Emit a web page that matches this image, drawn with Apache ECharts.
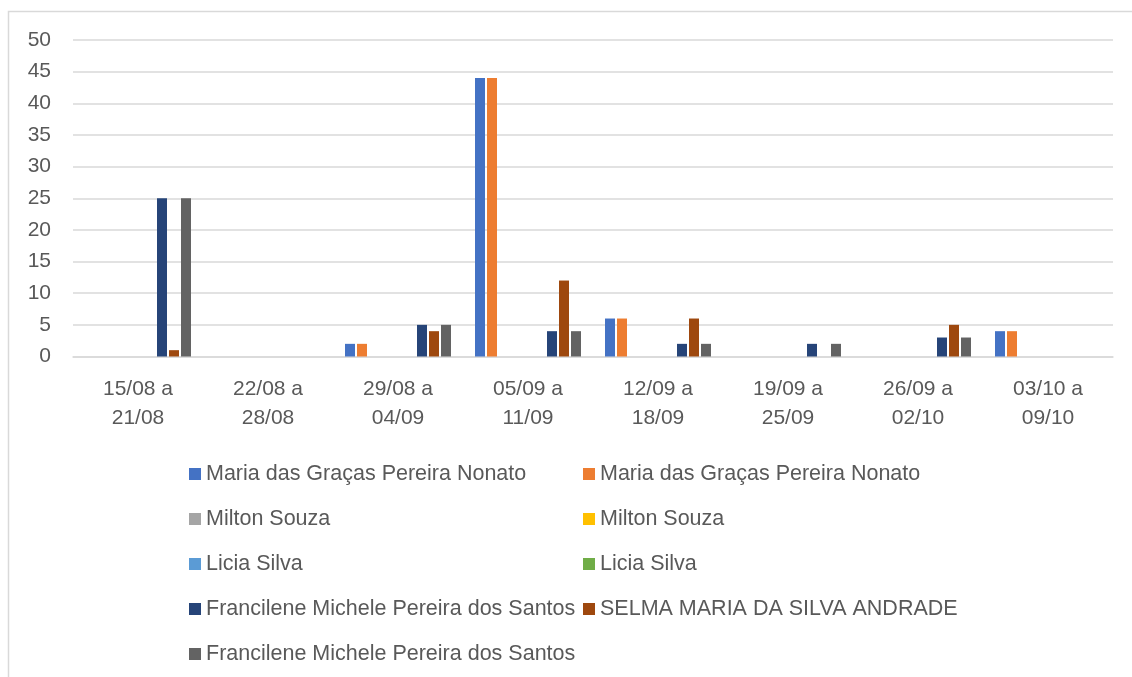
<!DOCTYPE html>
<html>
<head>
<meta charset="utf-8">
<script src="https://cdn.jsdelivr.net/npm/echarts@6/dist/echarts.min.js"></script>
<style>
  html, body { margin: 0; padding: 0; background: #fff; }
  #chart { width: 1132px; height: 677px; }
</style>
</head>
<body>
<div id="chart"></div>
<script>
// categories (weeks)
const weeks = ['15/08 a\n21/08', '22/08 a\n28/08', '29/08 a\n04/09', '05/09 a\n11/09',
  '12/09 a\n18/09', '19/09 a\n25/09', '26/09 a\n02/10', '03/10 a\n09/10']

// series values, in legend order
const mariaA = [0, 0, 2, 44, 6, 0, 0, 4]
const mariaB = [0, 0, 2, 44, 6, 0, 0, 4]
const miltonA = [0, 0, 0, 0, 0, 0, 0, 0]
const miltonB = [0, 0, 0, 0, 0, 0, 0, 0]
const liciaA = [0, 0, 0, 0, 0, 0, 0, 0]
const liciaB = [0, 0, 0, 0, 0, 0, 0, 0]
const francileneA = [25, 0, 5, 4, 2, 2, 3, 0]
const selma = [1, 0, 4, 12, 6, 0, 5, 0]
const francileneB = [25, 0, 5, 4, 2, 2, 3, 0]

const yTicks = [0, 5, 10, 15, 20, 25, 30, 35, 40, 45, 50]

// duplicate names get a zero-width space so each series keeps its own legend entry
const ZW = '\u200B'
const names = [
  'Maria das Graças Pereira Nonato', 'Maria das Graças Pereira Nonato' + ZW,
  'Milton Souza', 'Milton Souza' + ZW,
  'Licia Silva', 'Licia Silva' + ZW,
  'Francilene Michele Pereira dos Santos', 'SELMA MARIA DA SILVA ANDRADE',
  'Francilene Michele Pereira dos Santos' + ZW
]
const values = [mariaA, mariaB, miltonA, miltonB, liciaA, liciaB, francileneA, selma, francileneB]
const colors = ['#4472C4', '#ED7D31', '#A5A5A5', '#FFC000', '#5B9BD5', '#70AD47', '#264478', '#9E480E', '#636363']

const font = '"Liberation Sans", Arial, sans-serif'
const txt = '#595959'

const chart = echarts.init(document.getElementById('chart'))

const legendStyle = {
  orient: 'vertical',
  top: 457,
  itemWidth: 12,
  itemHeight: 12,
  itemGap: 21,
  icon: 'rect',
  selectedMode: false,
  formatter: n => n.replace(/\u200B/g, ''),
  textStyle: { fontFamily: font, fontSize: 21.5, color: txt, lineHeight: 24, padding: [0, 0, 0, 0] }
}

const option = {
  animation: false,
  color: colors,
  graphic: [{
    type: 'rect',
    shape: { x: 8.5, y: 11.5, width: 1200, height: 800 },
    style: { fill: 'none', stroke: '#D9D9D9', lineWidth: 1.5 },
    silent: true
  }],
  grid: { left: 73, right: 19, top: 40, height: 316.5 },
  legend: [
    Object.assign({ left: 184, data: [names[0], names[2], names[4], names[6], names[8]] }, legendStyle),
    Object.assign({ left: 578, data: [names[1], names[3], names[5], names[7]] }, legendStyle)
  ],
  xAxis: {
    type: 'category',
    data: weeks,
    axisLine: { lineStyle: { color: '#D9D9D9', width: 1.5 } },
    axisTick: { show: false },
    axisLabel: { fontFamily: font, fontSize: 21, color: txt, lineHeight: 29, margin: 18 }
  },
  yAxis: {
    type: 'value',
    min: yTicks[0],
    max: yTicks[yTicks.length - 1],
    interval: 5,
    axisLine: { show: false },
    axisTick: { show: false },
    splitLine: { lineStyle: { color: '#D9D9D9', width: 1.5 } },
    axisLabel: { fontFamily: font, fontSize: 21, color: txt, margin: 22 }
  },
  series: values.map((v, i) => ({
    name: names[i],
    type: 'bar',
    data: v,
    barWidth: 10,
    barGap: '20%',
    itemStyle: { color: colors[i] }
  }))
}

chart.setOption(option)
</script>
</body>
</html>
